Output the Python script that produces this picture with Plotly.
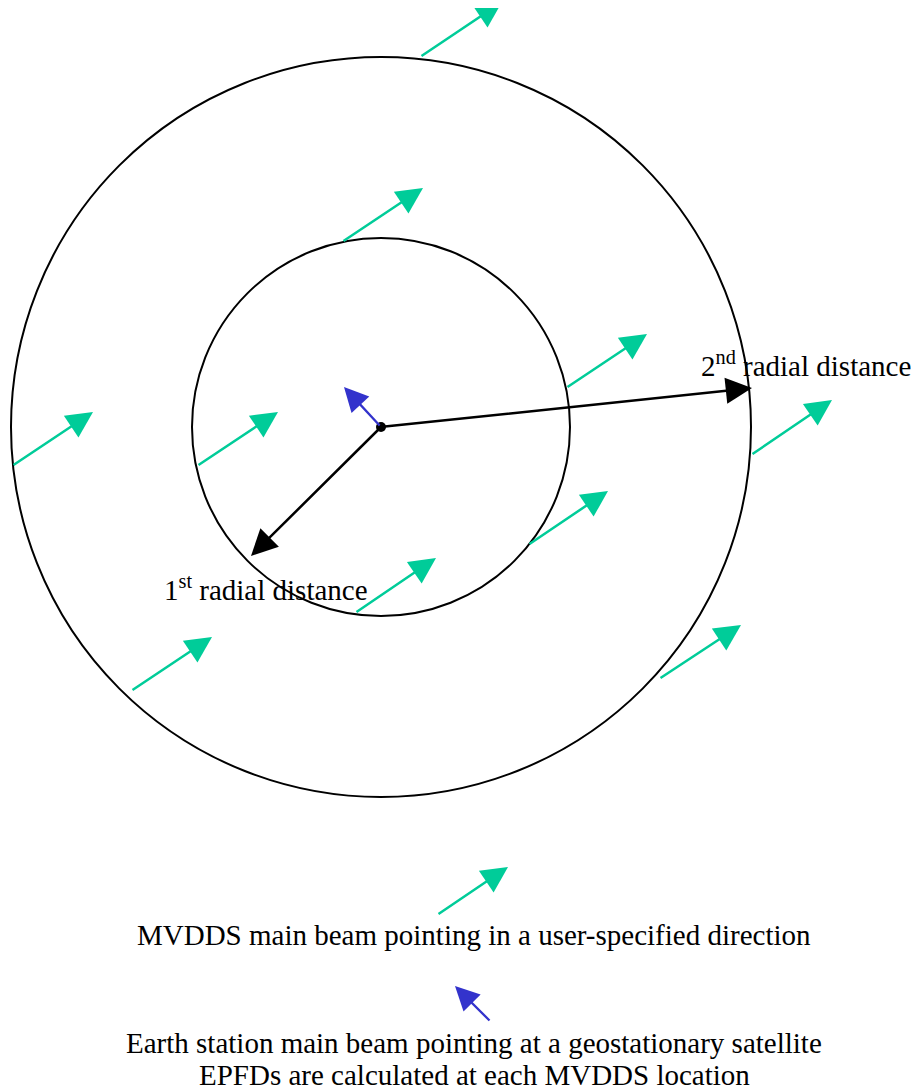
import plotly.graph_objects as go

W, H = 919, 1091
OFF = 8  # page body margin
FONT = "Liberation Serif, Times New Roman, Times, serif"

# Diagram geometry (pixel-like data units, y downwards)
center = (381, 427)
ring_radii = [189, 370]

# MVDDS main beam arrows: tail (x, y) -> head (x, y)
beam_tail_x = [420, 342, 566, 751, 12, 197, 528, 355, 131, 659]
beam_tail_y = [57, 242, 388, 455, 466, 466, 545, 613, 691, 679]
beam_head_x = [502, 423, 647, 832, 93, 278, 608, 436, 212, 741]
beam_head_y = [2, 188, 334, 400, 412, 412, 491, 558, 637, 625]

# Earth station beam (blue)
es_head = (344, 387)

# Radial distance arrows
radial_heads = [(251, 556), (752, 388)]
radial_labels = ["1<sup>st</sup> radial distance", "2<sup>nd</sup> radial distance"]
radial_label_pos = [(266, 588), (806, 364)]

# Legend
legend_green = ((437, 915), (508, 867))
legend_blue = ((491, 1022), (455, 986))
legend_texts = [
    "MVDDS main beam pointing in a user-specified direction",
    "Earth station main beam pointing at a geostationary satellite",
    "EPFDs are calculated at each MVDDS location",
]
legend_text_y = [935, 1043, 1075]

GREEN = "#00cc99"
BLUE = "#3333cc"

fig = go.Figure()

shapes = []
for r in ring_radii:
    shapes.append(dict(type="circle", xref="x", yref="y",
                       x0=center[0] - r, x1=center[0] + r,
                       y0=center[1] - r, y1=center[1] + r,
                       line=dict(color="black", width=2)))

ann = []

def arrow(tail, head, color, width, size):
    return dict(x=head[0], y=head[1], ax=tail[0], ay=tail[1],
                xref="x", yref="y", axref="x", ayref="y",
                showarrow=True, arrowhead=2, arrowsize=size,
                arrowwidth=width, arrowcolor=color, text="")

for tx, ty, hx, hy in zip(beam_tail_x, beam_tail_y, beam_head_x, beam_head_y):
    ann.append(arrow((tx, ty), (hx, hy), GREEN, 2.5, 2.1))

for h in radial_heads:
    ann.append(arrow(center, h, "black", 2.5, 2.1))

ann.append(arrow(center, es_head, BLUE, 2.3, 2.1))

ann.append(arrow(legend_green[0], legend_green[1], GREEN, 2.5, 2.1))
ann.append(arrow(legend_blue[0], legend_blue[1], BLUE, 2.3, 2.1))

for lbl, (lx, ly) in zip(radial_labels, radial_label_pos):
    ann.append(dict(x=lx, y=ly, xref="x", yref="y", text=lbl, showarrow=False,
                    font=dict(family=FONT, size=29, color="black")))

for t, ty in zip(legend_texts, legend_text_y):
    ann.append(dict(x=474, y=ty, xref="x", yref="y", text=t, showarrow=False,
                    font=dict(family=FONT, size=29, color="black")))

fig.add_trace(go.Scatter(x=[center[0]], y=[center[1]], mode="markers",
                         marker=dict(color="black", size=10),
                         hoverinfo="skip", showlegend=False))

fig.update_layout(
    width=W - OFF, height=H - OFF,
    margin=dict(l=0, r=0, t=0, b=0),
    paper_bgcolor="white", plot_bgcolor="white",
    shapes=shapes, annotations=ann, showlegend=False,
    xaxis=dict(range=[OFF, W], visible=False, fixedrange=True),
    yaxis=dict(range=[H, OFF], visible=False, fixedrange=True),
)

fig.write_html("out.html")
